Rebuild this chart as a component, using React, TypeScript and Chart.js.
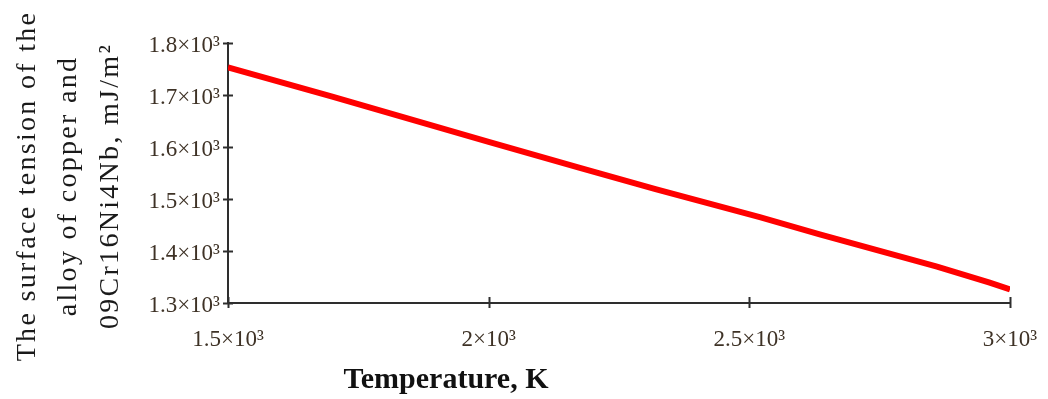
import React, { useEffect, useRef } from "react";
import { Chart, registerables } from "chart.js";

Chart.register(...registerables);

// Data
const temperatureK = [1500, 1700, 2000, 2175, 2320, 2520, 2635, 2860, 2961, 3000];
const surfaceTension = [1753, 1697, 1610, 1560, 1519, 1465, 1432, 1370, 1339, 1326];

const xTickValues = [1500, 2000, 2500, 3000];
const xTickLabels = ["1.5×10³", "2×10³", "2.5×10³", "3×10³"];
const yTickValues = [1300, 1400, 1500, 1600, 1700, 1800];
const yTickLabels = ["1.3×10³", "1.4×10³", "1.5×10³", "1.6×10³", "1.7×10³", "1.8×10³"];

const xTitle = "Temperature, K";
const yTitleLines = ["The surface tension of the", "alloy of copper and", "09Cr16Ni4Nb, mJ/m²"];

const SERIF = "'Liberation Serif', 'Times New Roman', serif";
const TICK_COLOR = "#3e3226";

const axisDecor = {
  id: "axisDecor",
  afterDraw(chart: any) {
    const ctx = chart.ctx as CanvasRenderingContext2D;
    const xs = chart.scales.x;
    const ys = chart.scales.y;
    const left = chart.chartArea.left;
    const bottom = chart.chartArea.bottom;
    ctx.save();
    ctx.strokeStyle = "#2e2e2e";
    ctx.lineWidth = 2;
    // crossing tick marks
    xTickValues.forEach((v) => {
      const px = Math.round(xs.getPixelForValue(v)) + 0.5;
      ctx.beginPath();
      ctx.moveTo(px, bottom - 6);
      ctx.lineTo(px, bottom + 5);
      ctx.stroke();
    });
    yTickValues.forEach((v) => {
      const py = Math.round(ys.getPixelForValue(v)) + 0.5;
      ctx.beginPath();
      ctx.moveTo(left - 5, py);
      ctx.lineTo(left + 5, py);
      ctx.stroke();
    });
    // x title
    ctx.fillStyle = "#111";
    ctx.font = `bold 30px ${SERIF}`;
    ctx.textAlign = "center";
    ctx.textBaseline = "alphabetic";
    ctx.fillText(xTitle, 446, 388);
    // y title, rotated
    ctx.fillStyle = "#1a1a1a";
    ctx.font = `28px ${SERIF}`;
    (ctx as any).letterSpacing = "2.3px";
    const baselines = [35, 76, 118];
    yTitleLines.forEach((line, i) => {
      ctx.save();
      ctx.translate(baselines[i], 186);
      ctx.rotate(-Math.PI / 2);
      ctx.textAlign = "center";
      ctx.textBaseline = "alphabetic";
      ctx.fillText(line, 0, 0);
      ctx.restore();
    });
    ctx.restore();
  },
};

export default function App() {
  const ref = useRef<HTMLCanvasElement | null>(null);
  useEffect(() => {
    document.body.style.margin = "0";
    const canvas = ref.current!;
    const chart = new Chart(canvas, {
      type: "line",
      data: {
        datasets: [
          {
            data: temperatureK.map((t, i) => ({ x: t, y: surfaceTension[i] })),
            borderColor: "#ff0000",
            backgroundColor: "#ff0000",
            borderWidth: 6,
            pointRadius: 0,
            tension: 0,
            fill: false,
          },
        ],
      },
      options: {
        animation: false,
        responsive: false,
        maintainAspectRatio: false,
        layout: { padding: { left: 0, top: 43, right: 38, bottom: 0 } },
        plugins: { legend: { display: false }, tooltip: { enabled: false }, title: { display: false } },
        scales: {
          x: {
            type: "linear",
            min: 1500,
            max: 3000,
            afterFit: (s: any) => {
              s.height = 96;
              s.paddingLeft = 0;
              s.paddingRight = 0;
            },
            afterBuildTicks: (s: any) => {
              s.ticks = xTickValues.map((v) => ({ value: v }));
            },
            ticks: {
              autoSkip: false,
              maxRotation: 0,
              padding: 23,
              color: TICK_COLOR,
              font: { family: SERIF, size: 23 },
              callback: (v: any) => xTickLabels[xTickValues.indexOf(Number(v))] ?? "",
            },
            grid: { display: false, drawTicks: false },
            border: { display: true, color: "#2e2e2e", width: 2 },
          },
          y: {
            type: "linear",
            min: 1300,
            max: 1800,
            afterFit: (s: any) => {
              s.width = 228;
              s.paddingTop = 0;
              s.paddingBottom = 0;
            },
            afterBuildTicks: (s: any) => {
              s.ticks = yTickValues.map((v) => ({ value: v }));
            },
            ticks: {
              autoSkip: false,
              padding: 8,
              labelOffset: 3,
              color: TICK_COLOR,
              font: { family: SERIF, size: 23 },
              callback: (v: any) => yTickLabels[yTickValues.indexOf(Number(v))] ?? "",
            },
            grid: { display: false, drawTicks: false },
            border: { display: true, color: "#2e2e2e", width: 2 },
          },
        },
      },
      plugins: [axisDecor],
    });
    return () => chart.destroy();
  }, []);
  return (
    <div style={{ position: "fixed", left: 0, top: 0, width: 1048, height: 399, background: "#fff" }}>
      <canvas ref={ref} width={1048} height={399} style={{ width: 1048, height: 399, display: "block" }} />
    </div>
  );
}
